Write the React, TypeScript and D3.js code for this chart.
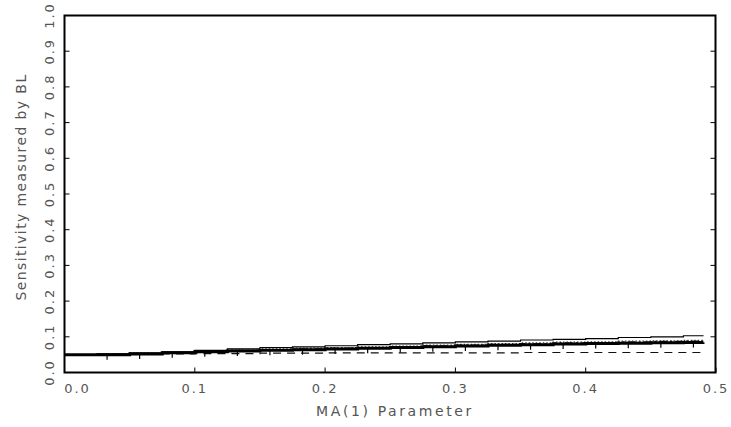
import React from "react";
import * as d3 from "d3";

const xVals = [0, 0.025, 0.05, 0.075, 0.1, 0.125, 0.15, 0.175, 0.2, 0.225, 0.25, 0.275, 0.3, 0.325, 0.35, 0.375, 0.4, 0.425, 0.45, 0.475, 0.49];
const solidSeries = [0.050, 0.052, 0.055, 0.058, 0.062, 0.066, 0.070, 0.072, 0.075, 0.078, 0.080, 0.083, 0.086, 0.088, 0.091, 0.093, 0.095, 0.098, 0.100, 0.103, 0.104];
const dottedSeries = [0.050, 0.051, 0.054, 0.057, 0.060, 0.063, 0.066, 0.068, 0.070, 0.072, 0.074, 0.077, 0.079, 0.081, 0.083, 0.085, 0.086, 0.088, 0.089, 0.090, 0.091];
const dashDotSeries = [0.050, 0.051, 0.053, 0.056, 0.059, 0.062, 0.064, 0.066, 0.068, 0.070, 0.072, 0.075, 0.077, 0.079, 0.081, 0.083, 0.084, 0.086, 0.087, 0.088, 0.089];
const thickSeries = [0.050, 0.050, 0.052, 0.055, 0.058, 0.060, 0.062, 0.064, 0.066, 0.068, 0.070, 0.072, 0.074, 0.076, 0.078, 0.080, 0.081, 0.082, 0.083, 0.084, 0.085];
const dashedSeries = [0.050, 0.050, 0.051, 0.052, 0.053, 0.053, 0.054, 0.054, 0.055, 0.055, 0.055, 0.055, 0.055, 0.055, 0.056, 0.056, 0.056, 0.056, 0.056, 0.056, 0.056];
const xTicks = [0, 0.1, 0.2, 0.3, 0.4, 0.5];
const yTicks = [0, 0.1, 0.2, 0.3, 0.4, 0.5, 0.6, 0.7, 0.8, 0.9, 1.0];

const W = 731, H = 427;
const L = 64.5, R = 715.5, T = 15.5, B = 372.5;

export default function App() {
  const x = d3.scaleLinear().domain([0, 0.5]).range([L, R + 0.5]);
  const y = d3.scaleLinear().domain([0, 1]).range([B, T]);
  const line = (vals: number[], n = vals.length) =>
    d3.line<number>().x((_, i) => x(xVals[i])).y((v) => y(v)).curve(d3.curveStepAfter)(vals.slice(0, n)) || "";
  const font = "'DejaVu Sans', sans-serif";
  const txt = "#555";
  return (
    <svg width={W} height={H} style={{ position: "absolute", left: 0, top: 0, background: "#fff" }}>
      <rect x={0} y={0} width={W} height={H} fill="#fff" />
      {/* lines */}
      <path d={line(dashedSeries)} fill="none" stroke="#111" strokeWidth={1.2} strokeDasharray="8,6" />
      <path d={line(dashDotSeries)} fill="none" stroke="#111" strokeWidth={1.2} strokeDasharray="8,3,2,3" />
      <path d={line(dottedSeries)} fill="none" stroke="#333" strokeWidth={1.2} strokeDasharray="1.5,2" />
      <path d={line(thickSeries)} fill="none" stroke="#000" strokeWidth={3} />
      {thickSeries.map((v, i) =>
        i > 0 && i < thickSeries.length - 1 ? (
          <line key={i} x1={x(xVals[i]) + 10} x2={x(xVals[i]) + 10} y1={y(v)} y2={y(v) + 5} stroke="#000" strokeWidth={1.2} />
        ) : null
      )}
      <path d={line(solidSeries)} fill="none" stroke="#000" strokeWidth={1.2} />
      {/* frame */}
      <path d={`M${L},${B}V${T}H${R}V${B}Z`} fill="none" stroke="#000" strokeWidth={2} />
      {/* y ticks */}
      {yTicks.map((t) => (
        <g key={"y" + t}>
          <line x1={L} x2={L + 5} y1={y(t)} y2={y(t)} stroke="#000" strokeWidth={1} />
          <line x1={R} x2={R - 5} y1={y(t)} y2={y(t)} stroke="#000" strokeWidth={1} />
          <text
            transform={`translate(${54},${y(t)}) rotate(-90)`}
            textAnchor="middle"
            fontFamily={font}
            fontSize={13}
            letterSpacing={2}
            fill={txt}
          >
            {t.toFixed(1)}
          </text>
        </g>
      ))}
      {/* x ticks */}
      {xTicks.map((t, i) => (
        <g key={"x" + t}>
          <line x1={x(t)} x2={x(t)} y1={B} y2={B - 5} stroke="#000" strokeWidth={1} />
          <text x={x(t) + (i === 0 ? 13 : 0)} y={393} textAnchor="middle" fontFamily={font} fontSize={13} letterSpacing={2} fill={txt}>
            {t.toFixed(1)}
          </text>
        </g>
      ))}
      <text x={395} y={416} textAnchor="middle" fontFamily={font} fontSize={14} letterSpacing={2.6} fill={txt}>
        MA(1) Parameter
      </text>
      <text
        transform={`translate(26,${187}) rotate(-90)`}
        textAnchor="middle"
        fontFamily={font}
        fontSize={14}
        letterSpacing={1.4}
        fill={txt}
      >
        Sensitivity measured by BL
      </text>
    </svg>
  );
}
